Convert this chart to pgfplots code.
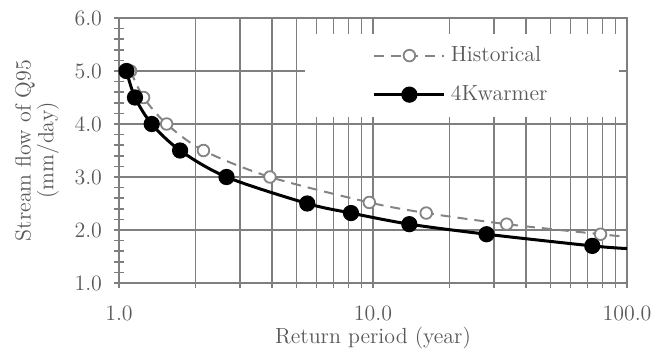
\documentclass[border=0pt]{standalone}
\usepackage{pgfplots}
\pgfplotsset{compat=1.18}
\definecolor{txt}{HTML}{595959}
\definecolor{grd}{HTML}{7F7F7F}
\definecolor{histc}{HTML}{848484}
\begin{document}
\begin{tikzpicture}
\begin{axis}[
  scale only axis, width=254bp, height=132.5bp,
  xmode=log, xmin=1, xmax=100, ymin=1, ymax=6,
  xtick={1,10,100}, xticklabels={1.0,10.0,100.0},
  ytick={1,2,3,4,5,6}, yticklabels={1.0,2.0,3.0,4.0,5.0,6.0},
  minor y tick num=4,
  tick pos=left,
  grid=both, major grid style={grd, line width=0.75bp}, minor x grid style={grd, line width=0.75bp},
  minor y grid style={draw=none},
  axis line style={grd, line width=0.75bp},
  tick style={grd, line width=0.75bp},
  major tick length=5bp, minor tick length=5bp,
  tick align=center,
  ticklabel style={text=txt, font=\fontsize{11}{12}\selectfont},
  xticklabel style={yshift=-5.5bp},
  yticklabel style={xshift=-2.5bp},
  xlabel={Return period (year)},
  ylabel={Stream flow of Q95\\(mm/day)},
  label style={text=txt, font=\fontsize{11}{11.5}\selectfont, align=center},
  xlabel style={at={(axis description cs:0.5,0)}, anchor=center, yshift=-27.5bp},
  ylabel style={at={(axis description cs:0,0.5)}, anchor=center, rotate=0, yshift=41bp},
  legend style={at={(axis description cs:0.986,0.943)}, anchor=north east, fill=white, draw=none,
    font=\fontsize{11}{12}\selectfont, text=txt, row sep=6.5bp, inner xsep=34bp, inner ysep=4.5bp,
    column sep=0.5bp},
  legend cell align=left,
  legend image code/.code={\draw[#1] (-1bp,0bp) -- (34bp,0bp); \path[#1] plot coordinates {(16.5bp,0bp)};},
  clip=true,
]
\addplot[color=histc, dash pattern=on 5bp off 3.5bp, line width=1bp, smooth, tension=0.5,
  mark=*, mark options={solid, fill=white, draw=histc, line width=0.9bp}, mark size=2.9bp,
  mark indices={1,2,3,4,5,6,7,8,9}]
  coordinates {(1.11,5.0) (1.25,4.5) (1.54,4.0) (2.15,3.5) (3.93,3.0) (9.67,2.52) (16.2,2.32) (33.6,2.11) (78.7,1.92) (100,1.87)};
\addlegendentry{Historical}
\addplot[black, line width=1.5bp, smooth, tension=0.5,
  mark=*, mark options={fill=black}, mark size=3.3bp,
  mark indices={1,2,3,4,5,6,7,8,9,10}]
  coordinates {(1.07,5.0) (1.156,4.5) (1.345,4.0) (1.74,3.5) (2.65,3.0) (5.51,2.5) (8.19,2.32) (13.9,2.11) (28.0,1.92) (73.0,1.70) (100,1.65)};
\addlegendentry{4Kwarmer}
\end{axis}
\pgfresetboundingbox
\path (current axis.south west) ++(-59.5bp,-34bp) coordinate (bl);
\path (current axis.north east) ++(15.5bp,9bp) coordinate (tr);
\path (bl) rectangle (tr);
\end{tikzpicture}
\end{document}
